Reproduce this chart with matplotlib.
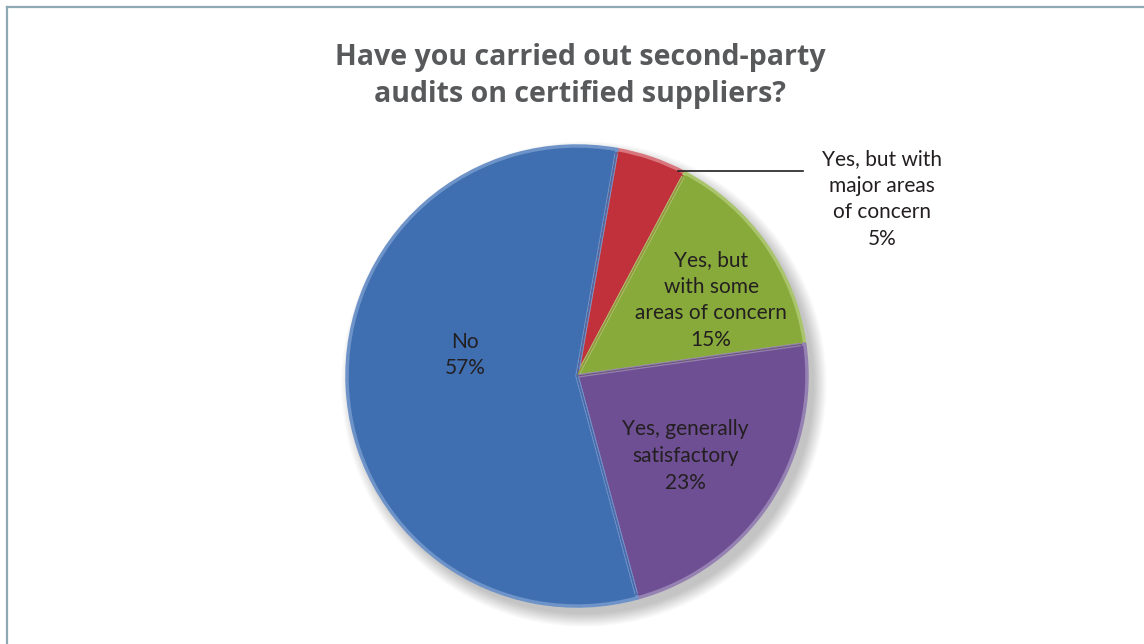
import matplotlib
matplotlib.use("Agg")
import matplotlib.pyplot as plt
import numpy as np
from matplotlib.patches import Circle, Wedge
from matplotlib.lines import Line2D

# Survey answers, drawn clockwise from just right of 12 o'clock
categories = ["Yes, but with\nmajor areas\nof concern",
              "Yes, but\nwith some\nareas of concern",
              "Yes, generally\nsatisfactory",
              "No"]
shares = [5, 15, 23, 57]
colors = ["#c0313b", "#88aa3b", "#6e4f93", "#3f6fb0"]
edge_colors = ["#d9757c", "#a9c46b", "#9581b2", "#6d93c8"]

title = "Have you carried out second-party\naudits on certified suppliers?"

W, H = 1144, 644
fig = plt.figure(figsize=(W / 100, H / 100), dpi=100)
fig.patch.set_facecolor("white")

# thin frame along top and left edges
fig.add_artist(Line2D([7 / W, 1], [1 - 7 / H, 1 - 7 / H], transform=fig.transFigure,
                      color="#8fa8b3", lw=1.6))
fig.add_artist(Line2D([7 / W, 7 / W], [0, 1 - 7 / H], transform=fig.transFigure,
                      color="#8fa8b3", lw=1.6))

fig.text(580 / W, 1 - 76 / H, title, ha="center", va="center",
         fontsize=20.5, fontweight="bold", color="#58595b",
         family="Open Sans", linespacing=1.4)

# pie axes: centre (577, 376), radius 230 px
cx, cy, r = 577, 376, 230
ax = fig.add_axes([(cx - r) / W, 1 - (cy + r) / H, 2 * r / W, 2 * r / H])
ax.axis("off")

# soft drop shadow, offset to the lower right
for k in range(12):
    rad = 1.0 + 0.005 * k
    ax.add_patch(Circle((0.03, -0.035), rad, facecolor="#000000",
                        alpha=0.018, edgecolor="none", zorder=0, clip_on=False))

wedges, _ = ax.pie(shares, colors=colors, startangle=80, counterclock=False,
                   radius=1.0, wedgeprops=dict(linewidth=2.5))
for w, ec in zip(wedges, edge_colors):
    w.set_edgecolor(ec)
    w.set_joinstyle("round")
    w.set_zorder(2)
    w.set_clip_on(False)

# thin darker outline inside bevel
for w, c in zip(wedges, colors):
    ax.add_patch(Wedge(w.center, w.r * 0.985, w.theta1, w.theta2,
                       facecolor="none", edgecolor=c, lw=0.8, zorder=3,
                       clip_on=False))

ax.set_xlim(-1, 1)
ax.set_ylim(-1, 1)
ax.set_aspect("equal")

label_font = dict(family="Lato", fontsize=15, color="#231f20",
                  ha="center", va="center", linespacing=1.42)

def pct(v):
    return f"{v}%"

# label placements in pie units
label_pos = [(1.326, 0.770), (0.583, 0.330), (0.470, -0.348), (-0.487, 0.091)]
for cat, val, (lx, ly) in zip(categories, shares, label_pos):
    ax.text(lx, ly, f"{cat}\n{pct(val)}", zorder=5, clip_on=False, **label_font)

# leader line for the small slice
ax.add_line(Line2D([0.439, 0.983], [0.891, 0.891], color="#231f20", lw=1.2,
                   zorder=5, clip_on=False))

fig.savefig("out.png", dpi=100, facecolor="white")
